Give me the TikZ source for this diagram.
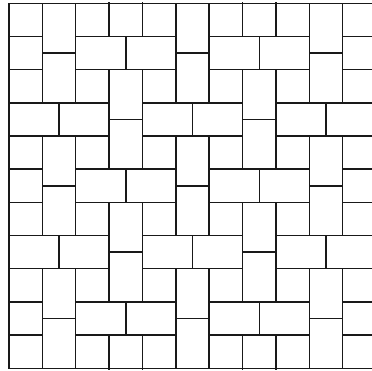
\documentclass[tikz,border=0pt]{standalone}
\begin{document}
\begin{tikzpicture}[x=33.37pt,y=-33.18pt,
  tile/.style={draw=black!90,line width=1.5pt,fill=white},
  gridline/.style={draw=black!90,line width=1.5pt}]
\useasboundingbox (0pt,0pt) rectangle (372pt,-370pt);
\begin{scope}
\clip (8.25pt,-2.55pt) rectangle (372pt,-369.05pt);
\begin{scope}[shift={(9pt,-3.3pt)}]
% unit grid (squares)
\foreach \c in {0,...,11} \draw[gridline] (\c,0) -- (\c,11);
\foreach \r in {0,...,11} \draw[gridline] (0,\r) -- (11,\r);
% horizontal pairs of 1.5 x 1 tiles
\foreach \r/\cs in {1/{-2,2,6,10},3/{0,4,8},5/{-2,2,6,10},7/{0,4,8},9/{-2,2,6,10}} {
  \foreach \c in \cs {
    \filldraw[tile] (\c,\r) rectangle ++(1.5,1);
    \filldraw[tile] (\c+1.5,\r) rectangle ++(1.5,1);
  }
}
% vertical pairs of 1 x 1.5 tiles
\foreach \r/\cs in {-2/{3,7},0/{1,5,9},2/{3,7},4/{1,5,9},6/{3,7},8/{1,5,9},10/{3,7}} {
  \foreach \c in \cs {
    \filldraw[tile] (\c,\r) rectangle ++(1,1.5);
    \filldraw[tile] (\c,\r+1.5) rectangle ++(1,1.5);
  }
}
\end{scope}
\end{scope}
% frame: top, left, bottom
\draw[gridline,line join=miter] (372pt,-3.3pt) -- (9pt,-3.3pt) -- (9pt,-368.3pt) -- (372pt,-368.3pt);
\end{tikzpicture}
\end{document}
